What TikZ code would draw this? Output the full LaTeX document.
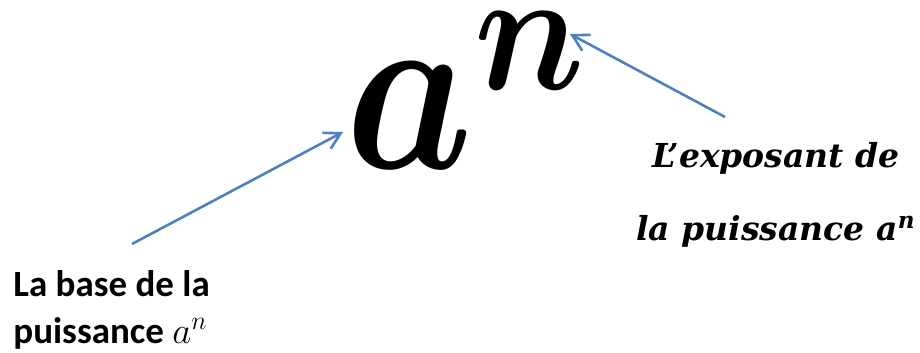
\RequirePackage{fix-cm}
\documentclass[tikz,border=0pt]{standalone}
\usepackage{amsmath}
\usepackage{graphicx}
\usepackage{fontspec}
\newfontfamily\labelfont{Carlito}
\newfontfamily\exponentfont{DejaVu Serif}
\definecolor{arrowblue}{RGB}{79, 129, 189}
\usetikzlibrary{arrows.meta}

\begin{document}
\begin{tikzpicture}[x=0.5pt, y=-0.5pt]
  \tikzset{pointer/.style={draw=arrowblue, line width=1.3pt, -{Straight Barb[length=8pt, width=9pt]}}}
  \useasboundingbox (0,0) rectangle (920,353);

  % The power itself
  \node[inner sep=0pt, anchor=base west, font={\fontsize{119}{130}\selectfont}] (letterA) at (345,168) {\scalebox{0.85}[1]{$\boldsymbol{a}$}};
  \node[inner sep=0pt, anchor=base west, font={\fontsize{87}{95}\selectfont}] (letterN) at (474,90) {\scalebox{0.89}[1]{$\boldsymbol{n}$}};

  % Labels
  \node[anchor=north west, inner sep=0pt, align=left, font={\labelfont\bfseries\fontsize{18.5}{23.5}\selectfont}] (baselabel) at (13,270) {La base de la\\puissance $a^n$};
  \node[anchor=north, inner sep=0pt, align=center, font={\exponentfont\bfseries\itshape\fontsize{16.5}{36.5}\selectfont}] (expolabel) at (776,142) {L’exposant de\\la puissance a\textsuperscript{n}};

  % Pointers
  \coordinate (tailA) at (132,244);
  \coordinate (tailB) at (725,117);
  \draw[pointer] (tailA) -- ([shift={(-1pt,18pt)}]letterA.base west);
  \draw[pointer] (tailB) -- ([shift={(48pt,28pt)}]letterN.base west);
\end{tikzpicture}
\end{document}
